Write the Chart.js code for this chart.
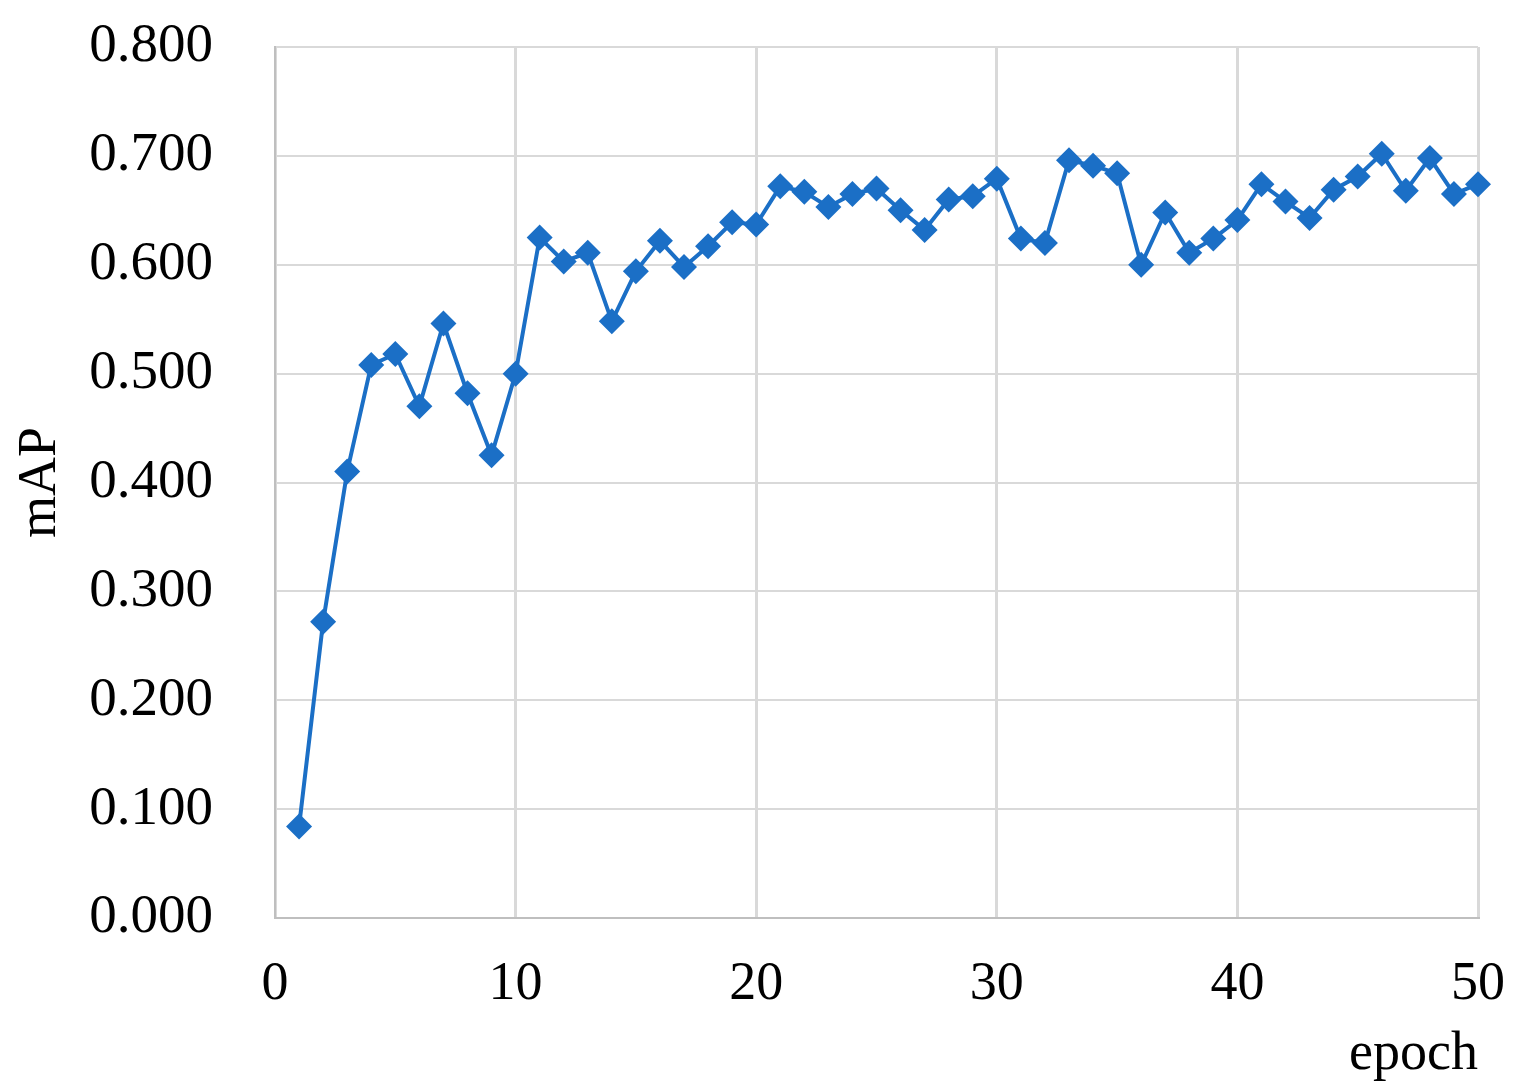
<!DOCTYPE html>
<html>
<head>
<meta charset="utf-8">
<script src="https://cdn.jsdelivr.net/npm/chart.js@4"></script>
<style>
  html, body { margin: 0; padding: 0; background: #ffffff; }
  #wrap { width: 1515px; height: 1087px; }
</style>
</head>
<body>
<div id="wrap"><canvas id="mapChart" width="1515" height="1087"></canvas></div>
<script>
// ====================================================
// Data
// ====================================================
const epochs = [
    1, 2, 3, 4, 5, 6, 7, 8, 9, 10,
    11, 12, 13, 14, 15, 16, 17, 18, 19, 20,
    21, 22, 23, 24, 25, 26, 27, 28, 29, 30,
    31, 32, 33, 34, 35, 36, 37, 38, 39, 40,
    41, 42, 43, 44, 45, 46, 47, 48, 49, 50
];
const mapValues = [
    0.084, 0.272, 0.410, 0.508, 0.518, 0.470, 0.546, 0.482, 0.425, 0.500,
    0.625, 0.603, 0.611, 0.548, 0.594, 0.622, 0.598, 0.617, 0.639, 0.637,
    0.672, 0.667, 0.653, 0.665, 0.670, 0.650, 0.632, 0.660, 0.663, 0.679,
    0.624, 0.620, 0.696, 0.691, 0.684, 0.600, 0.648, 0.611, 0.624, 0.641,
    0.674, 0.658, 0.643, 0.669, 0.681, 0.702, 0.668, 0.698, 0.665, 0.674
];
const xTicks = [0, 10, 20, 30, 40, 50];
const yTicks = [0.0, 0.1, 0.2, 0.3, 0.4, 0.5, 0.6, 0.7, 0.8];

const lineColor = '#1b6fc6';
const gridColor = '#d9d9d9';
const fontFamily = '"Liberation Serif", "Times New Roman", serif';

// ====================================================
// Build chart
// ====================================================
const points = epochs.map((e, i) => ({ x: e, y: mapValues[i] }));

new Chart(document.getElementById('mapChart'), {
    type: 'line',
    data: {
        datasets: [{
            label: 'mAP',
            data: points,
            borderColor: lineColor,
            backgroundColor: lineColor,
            borderWidth: 4,
            pointStyle: 'rectRot',
            pointRadius: 13,
            pointBorderWidth: 0,
            tension: 0,
            fill: false,
            clip: false
        }]
    },
    options: {
        responsive: false,
        animation: false,
        layout: { autoPadding: false, padding: { top: 47, right: 37, left: 0, bottom: 0 } },
        plugins: {
            legend: { display: false },
            tooltip: { enabled: false }
        },
        scales: {
            x: {
                type: 'linear',
                min: xTicks[0],
                max: xTicks[xTicks.length - 1],
                afterBuildTicks: (scale) => {
                    scale.ticks = xTicks.map(v => ({ value: v }));
                },
                afterFit: (scale) => {
                    // fixed height, no label overflow padding
                    scale.height = 169;
                    scale.paddingLeft = 0;
                    scale.paddingRight = 0;
                },
                grid: {
                    color: gridColor,
                    lineWidth: 3,
                    drawTicks: false
                },
                border: { color: '#bfbfbf', width: 2 },
                ticks: {
                    color: '#000',
                    padding: 34,
                    maxRotation: 0,
                    font: { family: fontFamily, size: 54 }
                },
                title: {
                    display: true,
                    text: 'epoch',
                    align: 'end',
                    color: '#000',
                    padding: { top: 2, bottom: 0 },
                    font: { family: fontFamily, size: 54 }
                }
            },
            y: {
                min: 0,
                max: 0.8,
                afterBuildTicks: (scale) => {
                    scale.ticks = yTicks.map(v => ({ value: v }));
                },
                afterFit: (scale) => {
                    scale.width = 275;
                    scale.paddingTop = 0;
                    scale.paddingBottom = 0;
                },
                grid: {
                    color: gridColor,
                    lineWidth: 2,
                    drawTicks: false
                },
                border: { color: '#bfbfbf', width: 2 },
                ticks: {
                    color: '#000',
                    padding: 62,
                    font: { family: fontFamily, size: 55 },
                    callback: (v) => Number(v).toFixed(3)
                },
                title: {
                    display: true,
                    text: 'mAP',
                    color: '#000',
                    padding: { top: 8, bottom: 0 },
                    font: { family: fontFamily, size: 54 }
                }
            }
        }
    }
});
</script>
</body>
</html>
